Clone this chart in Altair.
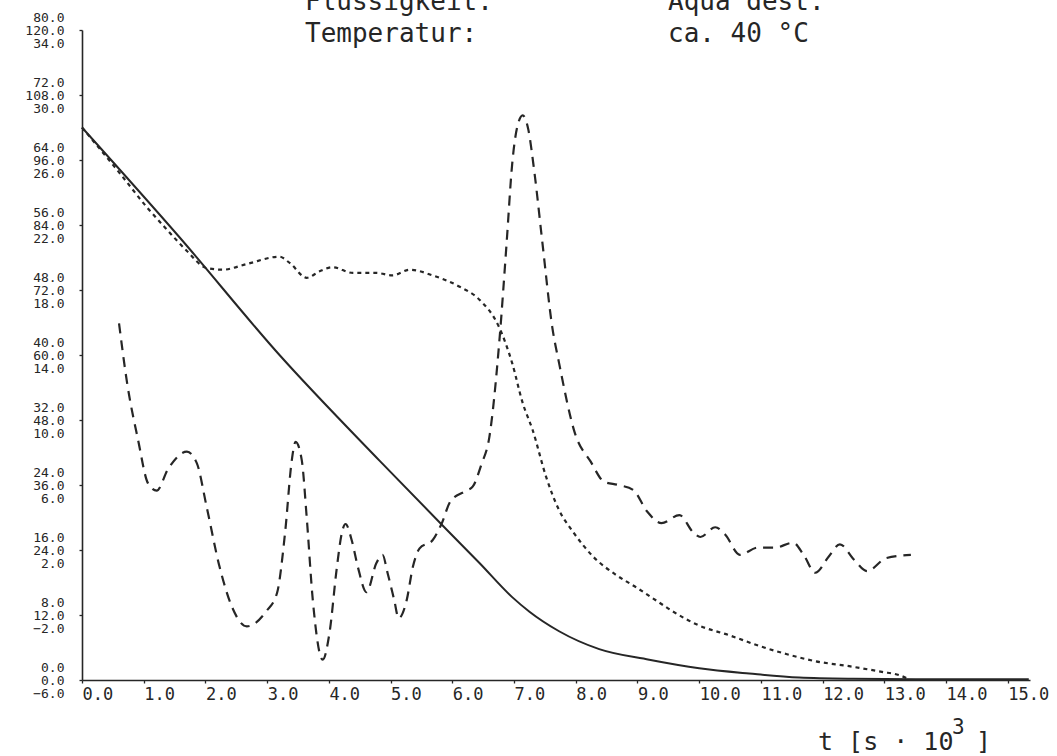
import altair as alt
import pandas as pd

# ---------------- data ----------------
# x: t [s * 10^3]; y: values on the first label scale (0 .. 80)
solid_t = [0.00, 1.59, 3.20, 4.82, 5.91, 6.44, 6.97, 7.25, 7.73,
           8.38, 9.19, 10.00, 10.81, 11.62, 12.50, 13.50, 15.34]
solid_v = [68.0, 54.4, 40.0, 27.0, 18.5, 14.4, 10.2, 8.4, 6.0,
           3.8, 2.5, 1.45, 0.8, 0.3, 0.15, 0.1, 0.1]

dotted_t = [0.00, 0.62, 1.05, 1.38, 1.70, 2.02, 2.28, 2.67, 3.20, 3.37,
            3.64, 3.85, 4.06, 4.39, 4.77, 5.03, 5.31, 5.68, 6.12, 6.44,
            6.76, 6.97, 7.14, 7.30, 7.52, 7.73, 7.95, 8.28, 8.64, 8.98,
            9.34, 9.56, 10.00, 10.49, 10.97, 11.41, 11.89, 12.43, 12.96,
            13.24, 13.40]
dotted_v = [68.0, 62.3, 58.2, 55.4, 52.8, 50.7, 50.5, 51.2, 52.1, 51.3,
            49.5, 50.3, 50.8, 50.1, 50.1, 49.8, 50.5, 49.8, 48.4, 46.8,
            43.4, 39.0, 34.1, 30.8, 25.0, 20.9, 18.3, 15.2, 13.0, 11.4,
            9.6, 8.5, 6.7, 5.5, 4.2, 3.2, 2.3, 1.7, 1.0,
            0.6, 0.1]

dashed_t = [0.60, 0.73, 0.91, 1.07, 1.21, 1.39, 1.70, 1.86, 2.02, 2.23, 2.43,
            2.67, 2.99, 3.16, 3.29, 3.40, 3.46, 3.56, 3.64, 3.74, 3.90, 4.01,
            4.13, 4.21, 4.27, 4.37, 4.47, 4.61, 4.77, 4.87, 4.95, 5.06, 5.13,
            5.26, 5.36, 5.47, 5.68, 5.83, 5.97, 6.20, 6.33, 6.47, 6.60, 6.76,
            6.88, 6.97, 7.05, 7.14, 7.23, 7.33, 7.46, 7.62, 7.73,
            7.99, 8.24, 8.46, 8.69, 8.93, 9.16, 9.39, 9.68, 9.90, 10.02, 10.26,
            10.42, 10.66, 10.95, 11.23, 11.52, 11.70, 11.88, 12.10, 12.28,
            12.51, 12.72, 13.03, 13.43]
dashed_v = [43.9, 36.6, 29.5, 24.2, 23.3, 25.9, 28.1, 26.7, 21.3, 13.9, 9.0,
            6.6, 8.5, 10.7, 18.1, 27.1, 29.3, 27.1, 20.1, 9.8, 2.5, 5.8,
            13.9, 18.1, 19.2, 17.2, 13.9, 10.8, 14.4, 15.4, 13.2, 9.8, 7.6,
            9.8, 13.9, 16.2, 17.2, 19.3, 22.0, 23.2, 23.8, 26.5, 29.9, 41.5,
            53.8, 63.5, 68.0, 69.5, 67.8, 62.5, 53.8, 43.4, 39.0,
            30.3, 26.9, 24.4, 24.0, 23.4, 20.7, 19.3, 20.3, 18.2, 17.6, 18.8,
            17.9, 15.4, 16.3, 16.3, 16.9, 15.3, 13.2, 15.2, 16.7,
            14.8, 13.4, 15.0, 15.4]

x_ticks = list(range(0, 16))
y_ticks = [0, 8, 16, 24, 32, 40, 48, 56, 64, 72, 80]

head_left = ["Flüssigkeit:", "Temperatur:"]
head_right = ["Aqua dest.", "ca. 40 °C"]
x_title = ["t [s · 10", "3", "]"]

# ---------------- layout / style ----------------
FONT = "DejaVu Sans Mono"
INK = "#262626"
LEFT, TOP, W, H = 82, 30, 948, 650
LH = 13  # line height of the stacked y labels

xaxis = alt.Axis(values=x_ticks, format=".1f", title=None, grid=False,
                 labelFont=FONT, labelFontSize=17, labelColor=INK,
                 labelAlign="left", labelBaseline="top", labelPadding=3,
                 labelFlush=False, labelOverlap=False, labelBound=False,
                 tickSize=3, tickColor=INK, tickWidth=1.3,
                 domainColor=INK, domainWidth=1.6)
yaxis = alt.Axis(values=y_ticks, title=None, grid=False,
                 labelExpr="[format(datum.value,'.1f'), format(datum.value*1.5,'.1f'), format(datum.value/2-6,'.1f')]",
                 labelFont=FONT, labelFontSize=13, labelLineHeight=LH,
                 labelColor=INK, labelAlign="right", labelBaseline="middle",
                 labelOffset=-LH, labelPadding=15, labelOverlap=False,
                 labelFlush=False, labelBound=False,
                 tickSize=3, tickColor=INK, tickWidth=1.3,
                 domainColor=INK, domainWidth=1.6)

xs = alt.Scale(domain=[0, 15.36], nice=False, zero=False)
ys = alt.Scale(domain=[0, 80], nice=False)


def curve(t, v, width, dash=None):
    df = pd.DataFrame({"t": t, "v": v})
    kw = dict(color=INK, strokeWidth=width, interpolate="monotone")
    if dash is not None:
        kw["strokeDash"] = dash
    return alt.Chart(df).mark_line(**kw).encode(
        x=alt.X("t:Q", scale=xs, axis=xaxis),
        y=alt.Y("v:Q", scale=ys, axis=yaxis),
    )


def label(text, px, py, size, align="left"):
    return alt.Chart(pd.DataFrame({"s": [text]})).mark_text(
        font=FONT, fontSize=size, color=INK, align=align, baseline="alphabetic"
    ).encode(x=alt.value(px - LEFT), y=alt.value(py - TOP), text="s:N")


layers = [
    curve(solid_t, solid_v, 2.0),
    curve(dotted_t, dotted_v, 2.2, [4, 4]),
    curve(dashed_t, dashed_v, 2.2, [10, 7]),
    label(head_left[0], 305, 10, 26),
    label(head_left[1], 305, 42, 26),
    label(head_right[0], 668, 10, 26),
    label(head_right[1], 668, 42, 26),
    label(x_title[0], 818, 750, 25),
    label(x_title[1], 952, 734, 21),
    label(x_title[2], 976, 750, 25),
]

chart = alt.layer(*layers).properties(
    width=W, height=H,
    autosize=alt.AutoSizeParams(type="none"),
    padding={"left": LEFT, "top": TOP, "right": 1057 - LEFT - W, "bottom": 756 - TOP - H},
    background="white",
).configure_view(stroke=None)

chart.save("out.html", embed_options={"renderer": "svg", "actions": False})
